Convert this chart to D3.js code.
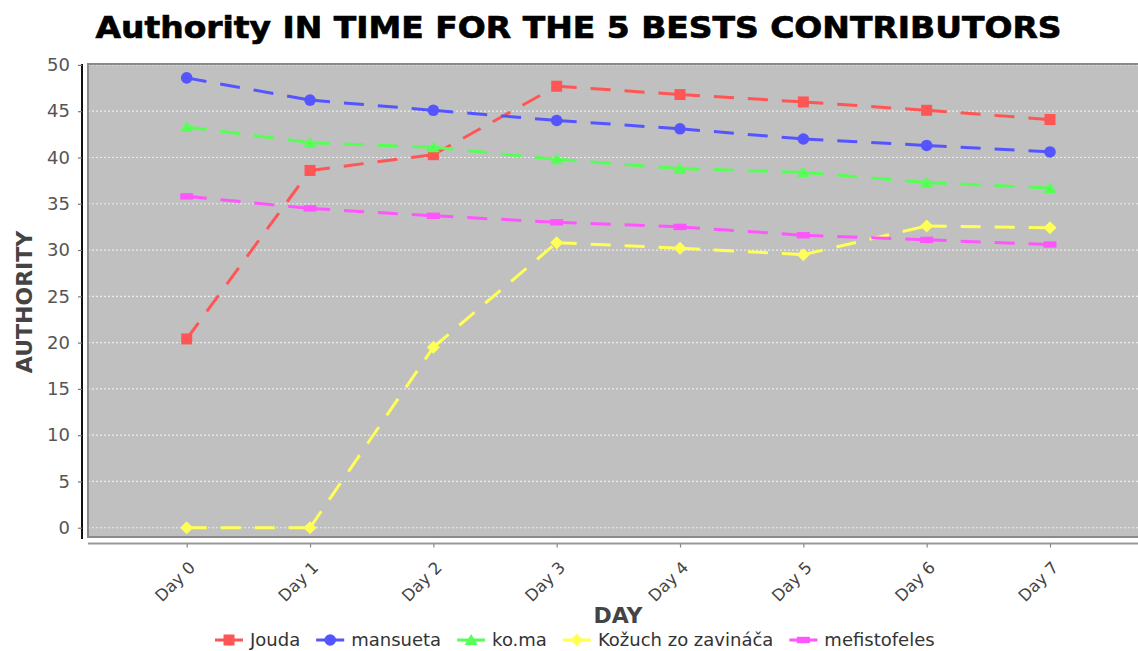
<!DOCTYPE html>
<html>
<head>
<meta charset="utf-8">
<script src="https://cdn.jsdelivr.net/npm/d3@7/dist/d3.min.js"></script>
<style>
  html, body { margin: 0; padding: 0; background: #ffffff; }
  svg { display: block; font-family: "DejaVu Sans", Verdana, sans-serif; }
</style>
</head>
<body>
<svg id="chart" width="1138" height="651"></svg>
<script>
// Category labels
const days = ["Day 0", "Day 1", "Day 2", "Day 3", "Day 4", "Day 5", "Day 6", "Day 7"];

// Authority per contributor, one value per day
const jouda        = [20.4, 38.6, 40.3, 47.7, 46.8, 46.0, 45.1, 44.1];
const mansueta     = [48.6, 46.2, 45.1, 44.0, 43.1, 42.0, 41.3, 40.6];
const koma         = [43.3, 41.6, 41.1, 39.8, 38.8, 38.4, 37.3, 36.7];
const kozuch       = [0.0, 0.0, 19.5, 30.8, 30.2, 29.5, 32.6, 32.4];
const mefistofeles = [35.8, 34.5, 33.7, 33.0, 32.5, 31.6, 31.1, 30.6];

const seriesNames = ["Jouda", "mansueta", "ko.ma", "Kožuch zo zavináča", "mefistofeles"];
const yTicks = [0, 5, 10, 15, 20, 25, 30, 35, 40, 45, 50];

const seriesValues = [jouda, mansueta, koma, kozuch, mefistofeles];
const colors = ["#ff5555", "#5555ff", "#55ff55", "#ffff55", "#ff55ff"];
const shapes = ["square", "circle", "triangle", "diamond", "hrect"];

const svg = d3.select("#chart");

// Plot frame
const plot = { left: 88, top: 64, right: 1149, bottom: 537 };

const x = d3.scalePoint().domain(days).range([186.7, 1050]);
const y = d3.scaleLinear().domain([-1, 50.1]).range([plot.bottom, plot.top]);

// Title
svg.append("text")
  .attr("x", 578.5).attr("y", 38)
  .attr("text-anchor", "middle")
  .attr("font-size", 31).attr("font-weight", "bold")
  .attr("fill", "#000").attr("stroke", "#000").attr("stroke-width", 0.7)
  .attr("textLength", 966).attr("lengthAdjust", "spacingAndGlyphs")
  .text("Authority IN TIME FOR THE 5 BESTS CONTRIBUTORS");

// Plot background
svg.append("rect")
  .attr("x", plot.left).attr("y", plot.top)
  .attr("width", plot.right - plot.left).attr("height", plot.bottom - plot.top)
  .attr("fill", "#c0c0c0");

// Horizontal gridlines
svg.append("g")
  .selectAll("line")
  .data(yTicks)
  .join("line")
  .attr("x1", plot.left).attr("x2", plot.right)
  .attr("y1", d => y(d)).attr("y2", d => y(d))
  .attr("stroke", "#ffffff").attr("stroke-opacity", 0.7)
  .attr("stroke-width", 1.2)
  .attr("stroke-dasharray", "2,2");

// Plot outline (top, left, bottom)
svg.append("path")
  .attr("d", `M${plot.right},${plot.top}H${plot.left}V${plot.bottom}H${plot.right}`)
  .attr("fill", "none").attr("stroke", "#8a8a8a").attr("stroke-width", 2);

// Y axis
const yAxis = d3.axisLeft(y).tickValues(yTicks).tickSize(4).tickPadding(8);
const gy = svg.append("g").attr("transform", "translate(82,0)").call(yAxis);
gy.select(".domain").attr("d", `M0,${plot.top}V${plot.bottom + 2}`)
  .attr("stroke", "#111").attr("stroke-width", 2);
gy.selectAll(".tick line").attr("stroke", "#777").attr("stroke-width", 1.2);
gy.selectAll(".tick text")
  .attr("font-size", 18).attr("fill", "#555")
  .attr("font-family", "DejaVu Sans, sans-serif");

// X axis
const xAxis = d3.axisBottom(x).tickSize(4).tickFormat(d => d);
const gx = svg.append("g").attr("transform", "translate(0,543.5)").call(xAxis);
gx.select(".domain").attr("d", `M${plot.left},0H${plot.right}`)
  .attr("stroke", "#999").attr("stroke-width", 2);
gx.selectAll(".tick line").attr("stroke", "#888").attr("stroke-width", 1.2);
gx.selectAll(".tick text")
  .attr("font-size", 16.5).attr("fill", "#444")
  .attr("font-family", "DejaVu Sans, sans-serif")
  .attr("text-anchor", "end")
  .attr("dy", 0)
  .attr("transform", "translate(9,25) rotate(-45)")
  .attr("x", 0).attr("y", 0);

// Axis titles
svg.append("text")
  .attr("transform", "translate(31.5,302) rotate(-90)")
  .attr("text-anchor", "middle")
  .attr("font-size", 22).attr("font-weight", "bold").attr("fill", "#444")
  .text("AUTHORITY");

svg.append("text")
  .attr("x", 618).attr("y", 623)
  .attr("text-anchor", "middle")
  .attr("font-size", 22).attr("font-weight", "bold").attr("fill", "#444")
  .text("DAY");

// Marker drawing
function marker(sel, shape, color) {
  if (shape === "square") {
    sel.append("rect").attr("x", -5.5).attr("y", -5.5).attr("width", 11).attr("height", 11).attr("fill", color);
  } else if (shape === "circle") {
    sel.append("circle").attr("r", 5.8).attr("fill", color);
  } else if (shape === "triangle") {
    sel.append("path").attr("d", "M0,-6L6.5,5L-6.5,5Z").attr("fill", color);
  } else if (shape === "diamond") {
    sel.append("path").attr("d", "M0,-6.5L6.5,0L0,6.5L-6.5,0Z").attr("fill", color);
  } else {
    sel.append("rect").attr("x", -6.5).attr("y", -3.2).attr("width", 13).attr("height", 6.4).attr("fill", color);
  }
}

// Series lines: each segment carries its own dash pattern
const linesG = svg.append("g");
seriesValues.forEach((vals, si) => {
  const segs = d3.pairs(vals.map((v, i) => [x(days[i]), y(v)]));
  linesG.append("g")
    .selectAll("line")
    .data(segs)
    .join("line")
    .attr("x1", d => d[0][0]).attr("y1", d => d[0][1])
    .attr("x2", d => d[1][0]).attr("y2", d => d[1][1])
    .attr("stroke", colors[si]).attr("stroke-width", 3)
    .attr("stroke-dasharray", "20,14");
});

// Series markers
const markersG = svg.append("g");
seriesValues.forEach((vals, si) => {
  vals.forEach((v, i) => {
    const g = markersG.append("g").attr("transform", `translate(${x(days[i])},${y(v)})`);
    marker(g, shapes[si], colors[si]);
  });
});

// Legend
const legend = svg.append("g");
const itemLine = 28, textGap = 7, itemGap = 16;
let cx = 215;
const legendY = 640;
seriesNames.forEach((name, si) => {
  const g = legend.append("g");
  g.append("line")
    .attr("x1", cx).attr("x2", cx + itemLine)
    .attr("y1", legendY).attr("y2", legendY)
    .attr("stroke", colors[si]).attr("stroke-width", 3);
  const m = g.append("g").attr("transform", `translate(${cx + itemLine / 2},${legendY})`);
  marker(m, shapes[si], colors[si]);
  const t = g.append("text")
    .attr("x", cx + itemLine + textGap).attr("y", legendY + 6)
    .attr("font-size", 18).attr("fill", "#333")
    .text(name);
  cx += itemLine + textGap + t.node().getComputedTextLength() + itemGap;
});
</script>
</body>
</html>
